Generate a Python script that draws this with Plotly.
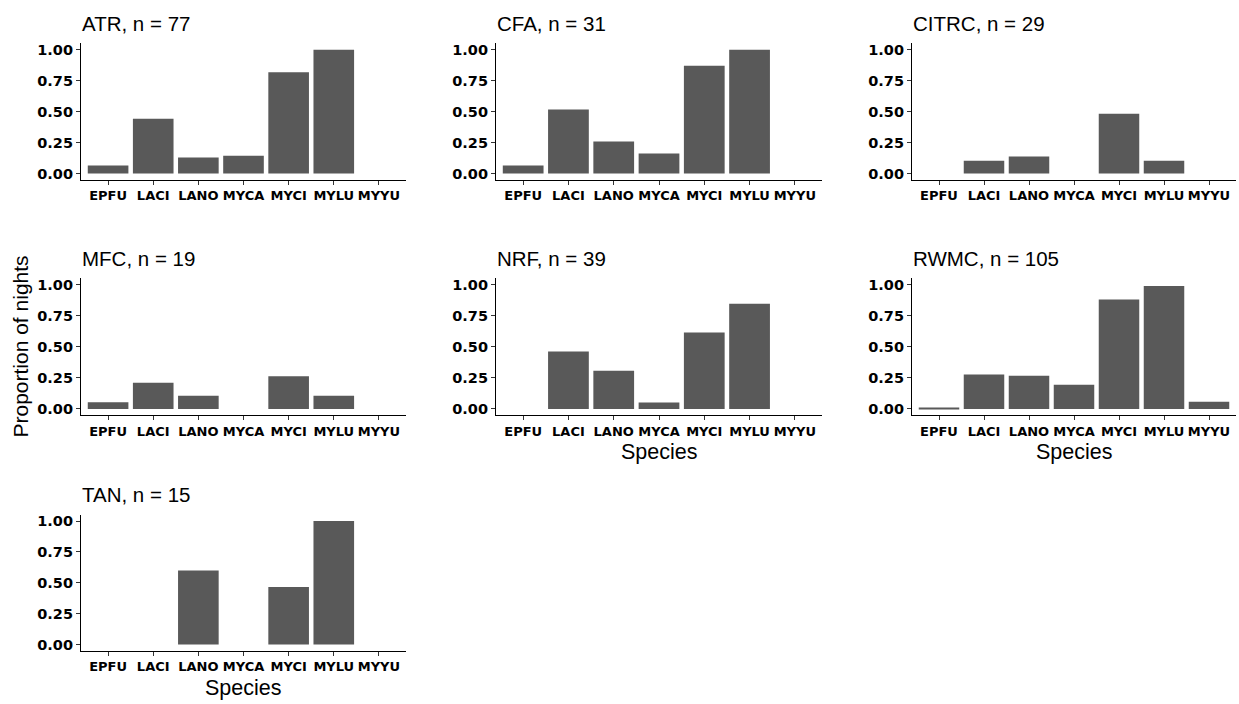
import plotly.graph_objects as go

species = ["EPFU", "LACI", "LANO", "MYCA", "MYCI", "MYLU", "MYYU"]
sites = ["ATR", "CFA", "CITRC", "MFC", "NRF", "RWMC", "TAN"]
n_nights = [77, 31, 29, 19, 39, 105, 15]

atr = [0.065, 0.442, 0.130, 0.143, 0.818, 1.000, 0.0]
cfa = [0.065, 0.516, 0.258, 0.161, 0.871, 1.000, 0.0]
citrc = [0.0, 0.103, 0.138, 0.0, 0.483, 0.103, 0.0]
mfc = [0.053, 0.211, 0.105, 0.0, 0.263, 0.105, 0.0]
nrf = [0.0, 0.462, 0.308, 0.051, 0.615, 0.846, 0.0]
rwmc = [0.0095, 0.276, 0.267, 0.195, 0.881, 0.990, 0.057]
tan = [0.0, 0.0, 0.600, 0.0, 0.467, 1.000, 0.0]

values = [atr, cfa, citrc, mfc, nrf, rwmc, tan]
y_ticks = [0.0, 0.25, 0.5, 0.75, 1.0]

W, H = 1239, 704
col_px = [(81, 406), (496, 822), (912, 1236)]
row_px = [(41.7, 178.7), (278.0, 415.5), (515.8, 652.5)]

FONT = "Liberation Sans, Arial, sans-serif"
TICKFONT = "DejaVu Sans, Liberation Sans, sans-serif"

fig = go.Figure()
layout = dict(
    width=W, height=H,
    margin=dict(l=0, r=0, t=0, b=0),
    paper_bgcolor="white", plot_bgcolor="white",
    showlegend=False,
    font=dict(family=FONT, color="black"),
)
annotations = []

for i, (site, n, vals) in enumerate(zip(sites, n_nights, values)):
    r, c = divmod(i, 3)
    k = i + 1
    xname = "x" if k == 1 else f"x{k}"
    yname = "y" if k == 1 else f"y{k}"
    fig.add_trace(go.Bar(
        x=species, y=vals, xaxis=xname, yaxis=yname,
        marker=dict(color="#595959", line=dict(width=0)),
        width=0.9,
    ))
    x0, x1 = col_px[c]
    t, b = row_px[r]
    xd = [x0 / W, x1 / W]
    yd = [1 - b / H, 1 - t / H]
    axx = dict(
        domain=xd, anchor=yname, type="category",
        categoryorder="array", categoryarray=species,
        range=[-0.6, 6.6], showgrid=False, zeroline=False,
        showline=True, linecolor="black", linewidth=1.2,
        ticks="outside", ticklen=4, tickcolor="#333333", tickwidth=1,
        tickfont=dict(family=TICKFONT, size=13, color="black", weight="bold"),
        fixedrange=True,
    )
    axy = dict(
        domain=yd, anchor=xname, range=[-0.05, 1.05],
        tickvals=y_ticks, tickformat=".2f",
        showgrid=False, zeroline=False,
        showline=True, linecolor="black", linewidth=1.2,
        ticks="outside", ticklen=4, tickcolor="#333333", tickwidth=1,
        tickfont=dict(family=TICKFONT, size=14.5, color="black", weight="bold"),
        fixedrange=True,
    )
    layout["xaxis" if k == 1 else f"xaxis{k}"] = axx
    layout["yaxis" if k == 1 else f"yaxis{k}"] = axy
    annotations.append(dict(
        text=f"{site}, n = {n}", xref="paper", yref="paper",
        x=(x0 - 1) / W, y=1 - (t - 20) / H, xanchor="left", yanchor="middle",
        showarrow=False, font=dict(family=FONT, size=20.5, color="black"),
    ))

# x-axis titles under bottom panels of each column
for (c, r) in [(0, 2), (1, 1), (2, 1)]:
    x0, x1 = col_px[c]
    t, b = row_px[r]
    annotations.append(dict(
        text="Species", xref="paper", yref="paper",
        x=(x0 + x1) / 2 / W, y=1 - (b + 37) / H,
        xanchor="center", yanchor="middle", showarrow=False,
        font=dict(family=FONT, size=21.5, color="black"),
    ))

annotations.append(dict(
    text="Proportion of nights", xref="paper", yref="paper",
    x=21 / W, y=1 - 346.5 / H, xanchor="center", yanchor="middle",
    textangle=-90, showarrow=False,
    font=dict(family=FONT, size=21, color="black"),
))

layout["annotations"] = annotations
fig.update_layout(**layout)
fig.write_html(
    "out.html",
    config={"displayModeBar": False},
    post_script="document.body.style.margin='0';document.body.style.overflow='hidden';",
)
